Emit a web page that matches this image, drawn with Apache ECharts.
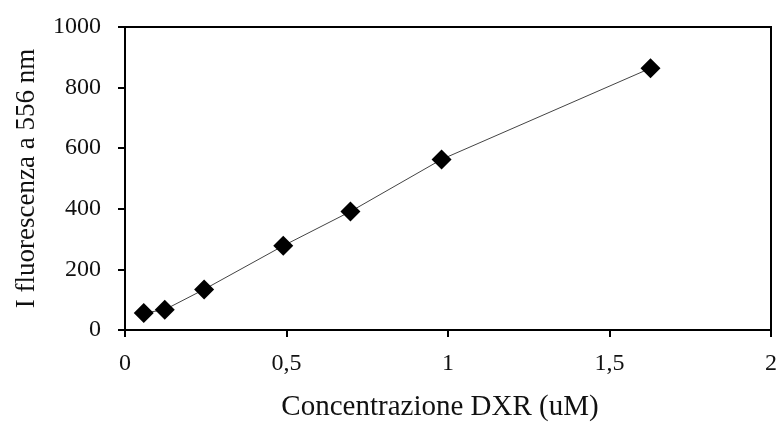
<!DOCTYPE html>
<html>
<head>
<meta charset="utf-8">
<script src="https://cdn.jsdelivr.net/npm/echarts@6/dist/echarts.min.js"></script>
<style>
  html, body { margin: 0; padding: 0; background: #fff; }
  #chart { width: 781px; height: 445px; }
</style>
</head>
<body>
<div id="chart"></div>
<script>
// Calibration points: DXR concentration (uM) vs fluorescence intensity at 556 nm
const concentration = [0.058, 0.123, 0.245, 0.49, 0.698, 0.98, 1.627];
const fluorescence = [56, 67, 134, 278, 391, 563, 864];
const xTitle = 'Concentrazione DXR (uM)';
const yTitle = 'I fluorescenza a 556 nm';

const points = concentration.map((c, i) => [c, fluorescence[i]]);
const font = 'Liberation Serif, Times New Roman, serif';

const chart = echarts.init(document.getElementById('chart'), null, { renderer: 'canvas' });
chart.setOption({
  animation: false,
  backgroundColor: '#fff',
  grid: {
    left: 125, right: 10, top: 27, bottom: 115,
    show: true, borderColor: '#000', borderWidth: 2, backgroundColor: 'transparent'
  },
  xAxis: {
    type: 'value', min: 0, max: 2, interval: 0.5,
    name: xTitle, nameLocation: 'middle', nameGap: 63,
    nameTextStyle: { fontFamily: font, fontSize: 29, color: '#111', padding: [0, 16, 0, 0] },
    axisLine: { show: true, onZero: false, lineStyle: { color: '#000', width: 2 } },
    axisTick: { show: true, length: 7, lineStyle: { color: '#000', width: 2 } },
    axisLabel: {
      fontFamily: font, fontSize: 24, color: '#111', margin: 22,
      formatter: v => String(v).replace('.', ',')
    },
    splitLine: { show: false }
  },
  yAxis: {
    type: 'value', min: 0, max: 1000, interval: 200,
    name: yTitle, nameLocation: 'middle', nameGap: 85, nameRotate: 90,
    nameTextStyle: { fontFamily: font, fontSize: 27, color: '#111' },
    axisLine: { show: true, onZero: false, lineStyle: { color: '#000', width: 2 } },
    axisTick: { show: true, length: 7, lineStyle: { color: '#000', width: 2 } },
    axisLabel: { fontFamily: font, fontSize: 24, color: '#111', margin: 24, formatter: v => String(v) },
    splitLine: { show: false }
  },
  series: [{
    type: 'line',
    data: points,
    symbol: 'diamond',
    symbolSize: 20,
    itemStyle: { color: '#000' },
    lineStyle: { color: '#444', width: 1 },
    z: 3
  }]
});
</script>
</body>
</html>
